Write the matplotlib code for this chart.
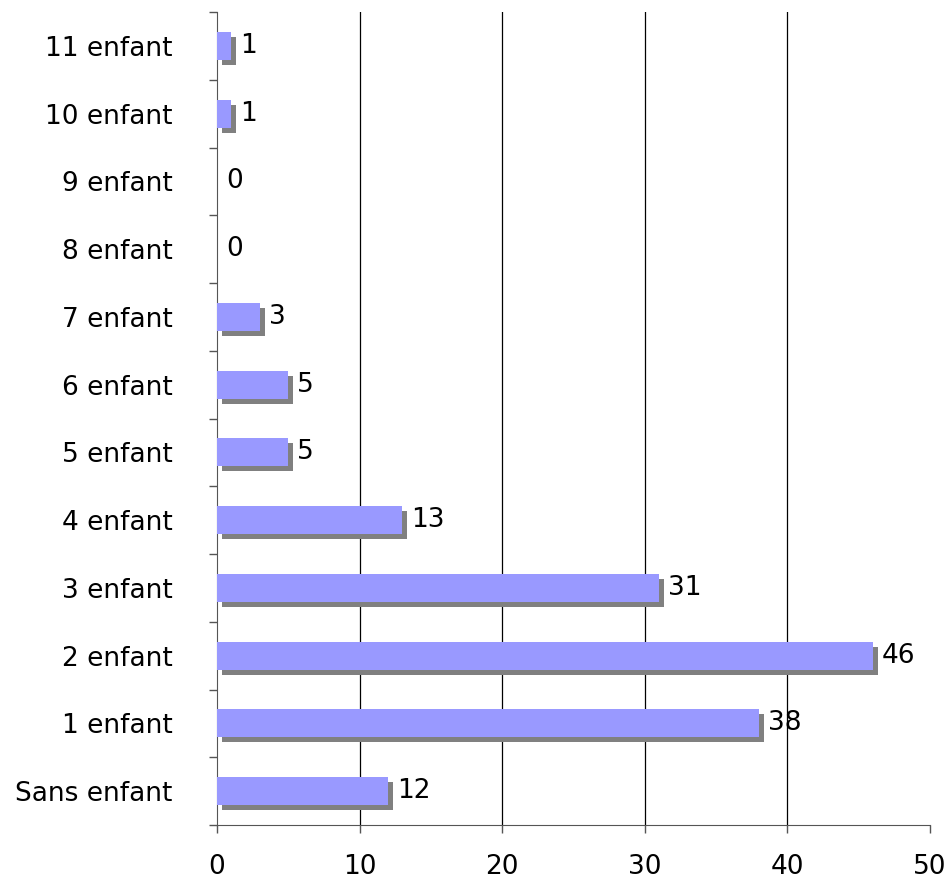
import matplotlib.pyplot as plt
import matplotlib.transforms as mtransforms
from matplotlib.ticker import FixedLocator, NullFormatter

# categories from bottom to top
categories = ['Sans enfant', '1 enfant', '2 enfant', '3 enfant', '4 enfant', '5 enfant',
              '6 enfant', '7 enfant', '8 enfant', '9 enfant', '10 enfant', '11 enfant']
counts = [12, 38, 46, 31, 13, 5, 5, 3, 0, 0, 1, 1]
x_ticks = [0, 10, 20, 30, 40, 50]

plt.rcParams['font.family'] = ['DejaVu Sans']

fig = plt.figure(figsize=(9.48, 8.8), dpi=100)
ax = fig.add_axes([217 / 948, 55 / 880, 713 / 948, 813 / 880])

pos = list(range(len(categories)))
bar_h = 0.41
fs = 19

# shadow, shifted 5px right and 5px down
shift = mtransforms.ScaledTranslation(5 / 100, -5 / 100, fig.dpi_scale_trans)
ax.barh(pos, counts, height=bar_h, color='#808080', transform=ax.transData + shift, zorder=2)
ax.barh(pos, counts, height=bar_h, color='#9999ff', zorder=3)

for y, v in zip(pos, counts):
    ax.annotate(str(v), (v, y), xytext=(6.5, 0), textcoords='offset points',
                ha='left', va='center', fontsize=fs, color='black', zorder=4)

ax.set_xlim(0, 50)
ax.set_ylim(-0.5, len(categories) - 0.5)

ax.set_xticks(x_ticks)
ax.set_yticks(pos)
ax.set_yticklabels(categories)
ax.yaxis.set_minor_locator(FixedLocator([p - 0.5 for p in pos] + [len(pos) - 0.5]))
ax.yaxis.set_minor_formatter(NullFormatter())
ax.tick_params(axis='y', which='major', length=0, pad=32, labelsize=fs)
ax.tick_params(axis='y', which='minor', length=6, width=1, color='#555555')
ax.tick_params(axis='x', length=6, width=1, color='#555555', pad=15, labelsize=fs)

for x in x_ticks[1:-1]:
    ax.axvline(x, color='black', linewidth=0.9, zorder=1)

ax.spines['top'].set_visible(False)
ax.spines['right'].set_visible(False)
ax.spines['left'].set_color('#555555')
ax.spines['bottom'].set_color('#555555')

fig.savefig('out.png', dpi=100)
